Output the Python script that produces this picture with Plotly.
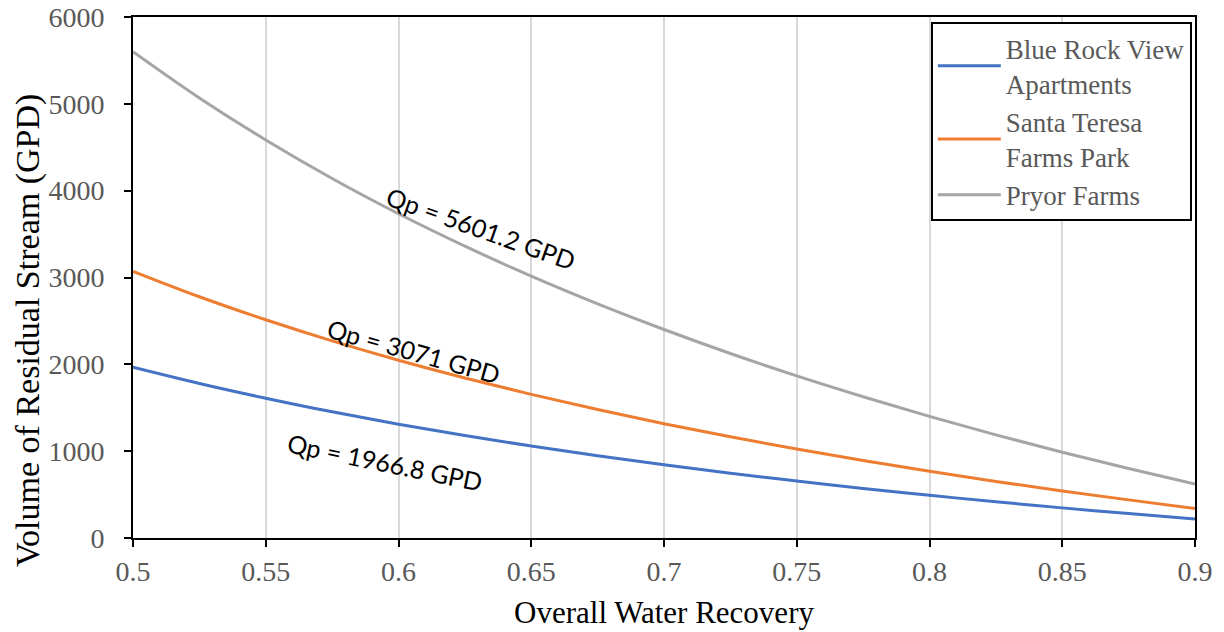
import plotly.graph_objects as go

recovery = [0.5, 0.525, 0.55, 0.575, 0.6, 0.625, 0.65, 0.675, 0.7, 0.725, 0.75,
            0.775, 0.8, 0.825, 0.85, 0.875, 0.9]
blue_rock = [1967, 1780, 1610, 1453, 1311, 1180, 1059, 947, 843, 746, 656,
             571, 492, 417, 347, 281, 219]
santa_teresa = [3071, 2778, 2513, 2270, 2047, 1843, 1654, 1479, 1316, 1165, 1024,
                892, 768, 651, 542, 439, 341]
pryor = [5601, 5068, 4583, 4140, 3734, 3361, 3016, 2697, 2401, 2125, 1867,
         1627, 1400, 1188, 988, 800, 622]

series_names = ["Blue Rock View<br>Apartments", "Santa Teresa<br>Farms Park", "Pryor Farms"]
series_colors = ["#4472C4", "#ED7D31", "#A5A5A5"]
series_values = [blue_rock, santa_teresa, pryor]

labels = ["Qp = 1966.8 GPD", "Qp = 3071 GPD", "Qp = 5601.2 GPD"]
label_x = [0.5949, 0.6058, 0.631]
label_y = [875, 2153, 3570]
label_angle = [11.5, 15.5, 19.5]

serif = "Liberation Serif, Times New Roman, serif"

fig = go.Figure()
for name, col, vals in zip(series_names, series_colors, series_values):
    fig.add_trace(go.Scatter(x=recovery, y=vals, mode="lines", name=name,
                             line=dict(color=col, width=3, shape="spline")))

for t, x, y, a in zip(labels, label_x, label_y, label_angle):
    fig.add_annotation(x=x, y=y, text=t, showarrow=False, textangle=a,
                       font=dict(family="Lato", size=25, color="black"))

# y-axis title, placed as in the reference (slightly below the plot centre)
fig.add_annotation(xref="paper", yref="paper", x=-0.0989, y=0.399,
                   xanchor="center", yanchor="middle",
                   text="Volume of Residual Stream (GPD)", showarrow=False,
                   textangle=-90,
                   font=dict(family=serif, size=34, color="black"))

fig.update_layout(
    width=1224, height=632,
    margin=dict(l=133, r=29, t=17, b=94),
    paper_bgcolor="white", plot_bgcolor="white",
    font=dict(family=serif, size=24, color="#595959"),
    legend=dict(x=0.997, y=0.99, xanchor="right", yanchor="top",
                bgcolor="white", bordercolor="black", borderwidth=2,
                font=dict(family=serif, size=27, color="#595959"),
                itemwidth=63, tracegroupgap=0),
    xaxis=dict(range=[0.5, 0.9], dtick=0.05, tick0=0.5,
               showgrid=True, gridcolor="#D9D9D9", gridwidth=1.5,
               showline=True, linecolor="black", linewidth=2, mirror=True,
               ticks="outside", ticklen=7, tickcolor="black", tickwidth=2,
               tickfont=dict(family=serif, size=28, color="#595959"),
               title=dict(text="Overall Water Recovery",
                          font=dict(family=serif, size=31, color="black"), standoff=16),
               zeroline=False, automargin=False),
    yaxis=dict(range=[0, 6000], dtick=1000,
               showgrid=False,
               showline=True, linecolor="black", linewidth=2, mirror=True,
               ticks="outside", ticklen=7, tickcolor="black", tickwidth=2,
               tickfont=dict(family=serif, size=28, color="#595959"),
               ticklabelstandoff=14,
               zeroline=False, automargin=False),
)

fig.write_html("out.html")
